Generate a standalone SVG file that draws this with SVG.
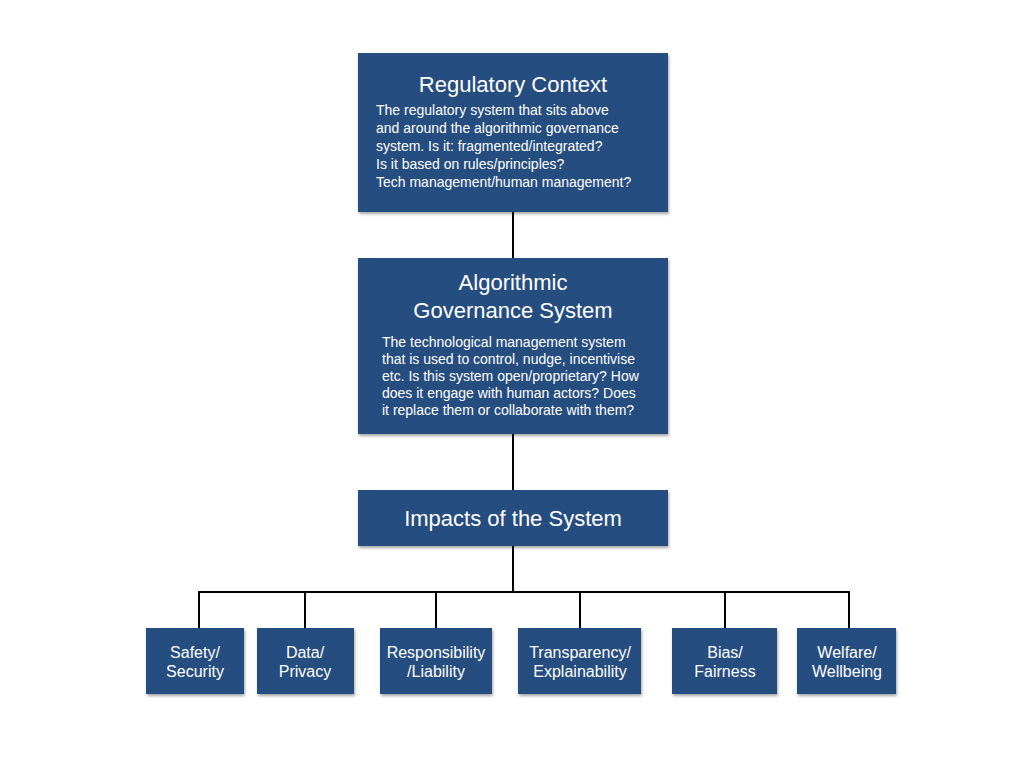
<svg xmlns="http://www.w3.org/2000/svg" width="1024" height="768" viewBox="0 0 1024 768">
<style>
.b{fill:#264d80;filter:url(#s)}
text{font-family:"Liberation Sans",Arial,sans-serif;fill:#fff}
.t{font-size:22px;text-anchor:middle}
.d{font-size:14px}
.l{font-size:16px;text-anchor:middle}
.c{stroke:#000;stroke-width:2;fill:none}
</style>
<defs><filter id="s" x="-10%" y="-10%" width="130%" height="130%"><feDropShadow dx="1" dy="2" stdDeviation="1.5" flood-color="#000" flood-opacity="0.35"/></filter></defs>
<rect width="1024" height="768" fill="#fff"/>
<g id="connectors" class="c">
<path d="M513 212V258M513 434V490M513 546V592M199 628V592H849V628M305 592V628M436 592V628M580 592V628M725 592V628"/>
</g>
<g id="regulatory"><rect class="b" x="358" y="53" width="310" height="159"/>
<text class="t" x="513" y="92">Regulatory Context</text>
<text class="d" x="376" y="115">The regulatory system that sits above</text>
<text class="d" x="376" y="133">and around the algorithmic governance</text>
<text class="d" x="376" y="151">system. Is it: fragmented/integrated?</text>
<text class="d" x="376" y="169">Is it based on rules/principles?</text>
<text class="d" x="376" y="187">Tech management/human management?</text></g>
<g id="algorithmic"><rect class="b" x="358" y="258" width="310" height="176"/>
<text class="t" x="513" y="290">Algorithmic</text>
<text class="t" x="513" y="318">Governance System</text>
<text class="d" x="382" y="347">The technological management system</text>
<text class="d" x="382" y="364">that is used to control, nudge, incentivise</text>
<text class="d" x="382" y="381">etc. Is this system open/proprietary? How</text>
<text class="d" x="382" y="398">does it engage with human actors? Does</text>
<text class="d" x="382" y="415">it replace them or collaborate with them?</text></g>
<g id="impacts"><rect class="b" x="358" y="490" width="310" height="56"/>
<text class="t" x="513" y="526">Impacts of the System</text></g>
<g id="safety"><rect class="b" x="146" y="628" width="98" height="66"/>
<text class="l" x="195" y="658">Safety/</text><text class="l" x="195" y="677">Security</text></g>
<g id="data"><rect class="b" x="257" y="628" width="97" height="66"/>
<text class="l" x="305" y="658">Data/</text><text class="l" x="305" y="677">Privacy</text></g>
<g id="responsibility"><rect class="b" x="380" y="628" width="112" height="66"/>
<text class="l" x="436" y="658">Responsibility</text><text class="l" x="436" y="677">/Liability</text></g>
<g id="transparency"><rect class="b" x="518" y="628" width="123" height="66"/>
<text class="l" x="580" y="658">Transparency/</text><text class="l" x="580" y="677">Explainability</text></g>
<g id="bias"><rect class="b" x="672" y="628" width="105" height="66"/>
<text class="l" x="725" y="658">Bias/</text><text class="l" x="725" y="677">Fairness</text></g>
<g id="welfare"><rect class="b" x="797" y="628" width="99" height="66"/>
<text class="l" x="847" y="658">Welfare/</text><text class="l" x="847" y="677">Wellbeing</text></g>
</svg>
